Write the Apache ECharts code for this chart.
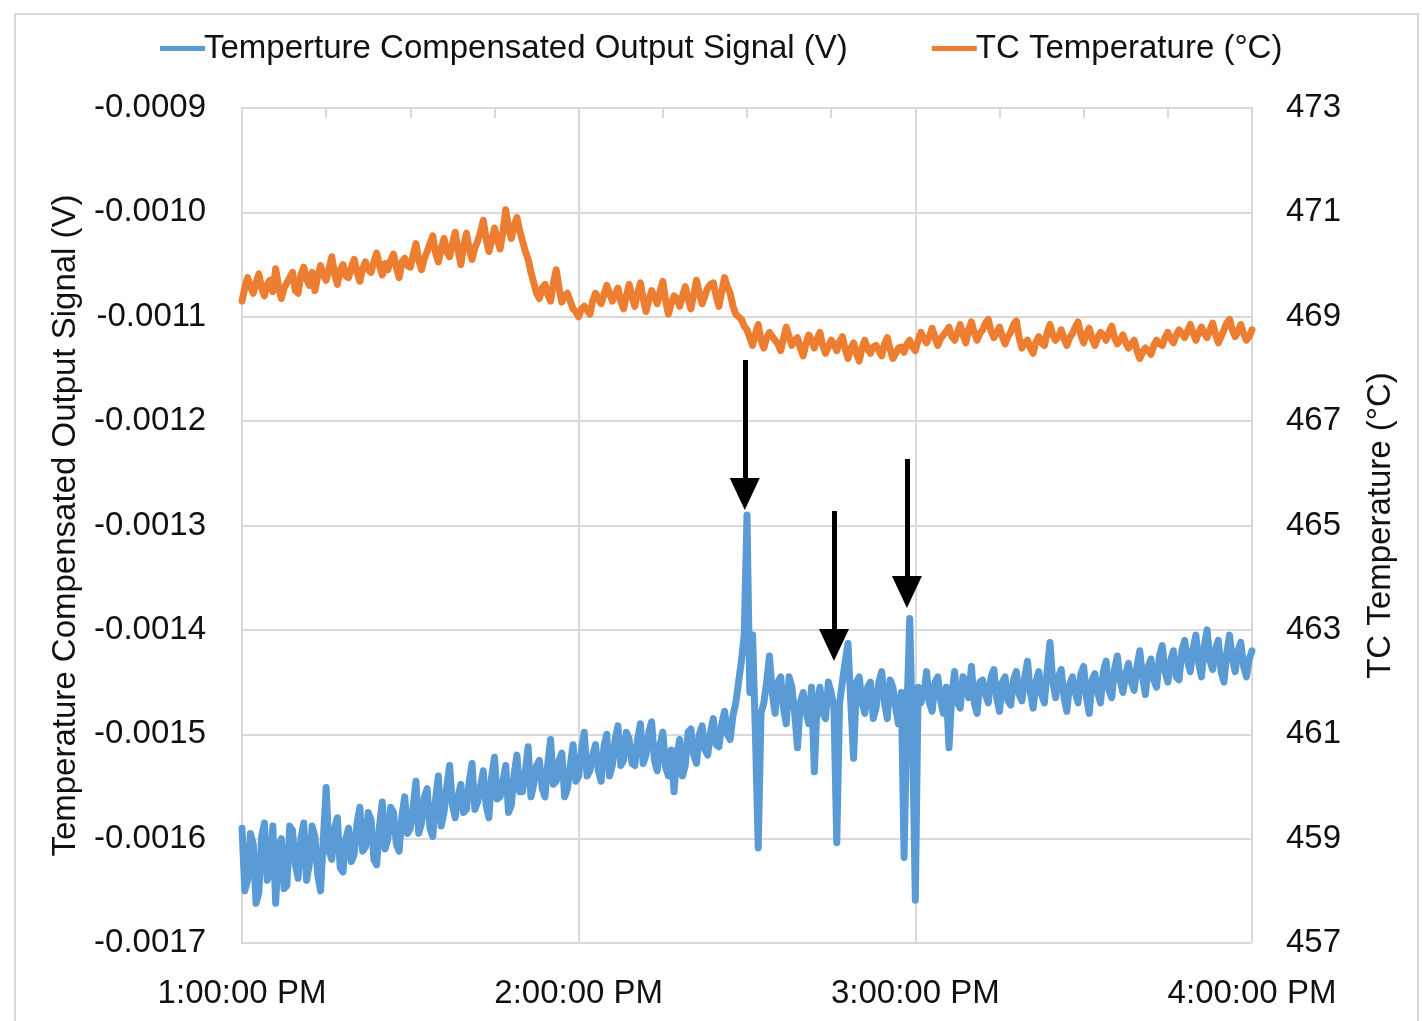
<!DOCTYPE html>
<html>
<head>
<meta charset="utf-8">
<title>Output signal vs TC temperature</title>
<script src="https://cdn.jsdelivr.net/npm/echarts@6/dist/echarts.min.js"></script>
<style>
  html, body { margin: 0; padding: 0; background: #fff; }
  #chart { width: 1422px; height: 1021px; }
</style>
</head>
<body>
<div id="chart"></div>
<script>
// readings on the whole minute, starting 1:00:00 PM
var signalV = [
  -0.001590, -0.001640, -0.001605, -0.001652, -0.001585, -0.001630, -0.001662, -0.001600, -0.001645, -0.001592,
  -0.001638, -0.001585, -0.001625, -0.001598, -0.001650, -0.001551, -0.001620, -0.001580, -0.001632, -0.001590,
  -0.001615, -0.001570, -0.001608, -0.001582, -0.001625, -0.001565, -0.001600, -0.001575, -0.001612, -0.001560,
  -0.001590, -0.001545, -0.001585, -0.001552, -0.001598, -0.001540, -0.001575, -0.001530, -0.001580, -0.001548,
  -0.001572, -0.001528, -0.001565, -0.001535, -0.001580, -0.001522, -0.001560, -0.001530, -0.001568, -0.001520,
  -0.001555, -0.001512, -0.001548, -0.001525, -0.001560, -0.001505, -0.001545, -0.001518, -0.001552, -0.001510,
  -0.001540, -0.001498, -0.001535, -0.001510, -0.001545, -0.001500, -0.001530, -0.001492, -0.001525, -0.001505,
  -0.001530, -0.001490, -0.001520, -0.001488, -0.001535, -0.001498, -0.001540, -0.001555, -0.001505, -0.001530,
  -0.001495, -0.001528, -0.001492, -0.001520, -0.001485, -0.001512, -0.001478, -0.001505, -0.001470, -0.001430,
  -0.001290, -0.001405, -0.001609, -0.001470, -0.001425, -0.001480, -0.001445, -0.001490, -0.001455, -0.001513,
  -0.001460, -0.001490, -0.001536, -0.001455, -0.001485, -0.001460, -0.001604, -0.001450, -0.001413, -0.001523,
  -0.001445, -0.001480, -0.001450, -0.001475, -0.001440, -0.001485, -0.001455, -0.001490, -0.001618, -0.001389,
  -0.001659, -0.001470, -0.001440, -0.001478, -0.001445, -0.001480, -0.001513, -0.001440, -0.001475, -0.001450,
  -0.001435, -0.001480, -0.001448, -0.001470, -0.001438, -0.001478, -0.001445, -0.001472, -0.001440, -0.001468,
  -0.001430, -0.001475, -0.001440, -0.001470, -0.001412, -0.001465, -0.001438, -0.001478, -0.001445, -0.001470,
  -0.001435, -0.001480, -0.001442, -0.001470, -0.001430, -0.001465, -0.001425, -0.001460, -0.001432, -0.001458,
  -0.001420, -0.001462, -0.001428, -0.001455, -0.001415, -0.001450, -0.001420, -0.001448, -0.001410, -0.001440,
  -0.001405, -0.001445, -0.001400, -0.001438, -0.001410, -0.001450, -0.001405, -0.001440, -0.001412, -0.001445,
  -0.001420
]
// readings on the half minute (1:00:30 PM onwards)
var signalHalfV = [
  -0.001650, -0.001595, -0.001662, -0.001598, -0.001640, -0.001588, -0.001610, -0.001648, -0.001588, -0.001625,
  -0.001600, -0.001640, -0.001588, -0.001635, -0.001600, -0.001612, -0.001590, -0.001628, -0.001600, -0.001622,
  -0.001585, -0.001612, -0.001575, -0.001620, -0.001588, -0.001610, -0.001570, -0.001605, -0.001578, -0.001595,
  -0.001570, -0.001595, -0.001560, -0.001590, -0.001562, -0.001588, -0.001550, -0.001568, -0.001560, -0.001575,
  -0.001545, -0.001572, -0.001550, -0.001568, -0.001540, -0.001562, -0.001545, -0.001575, -0.001538, -0.001555,
  -0.001535, -0.001560, -0.001530, -0.001552, -0.001528, -0.001548, -0.001525, -0.001560, -0.001530, -0.001545,
  -0.001515, -0.001540, -0.001520, -0.001535, -0.001512, -0.001540, -0.001505, -0.001530, -0.001498, -0.001528,
  -0.001505, -0.001528, -0.001498, -0.001525, -0.001510, -0.001532, -0.001515, -0.001520, -0.001540, -0.001498,
  -0.001520, -0.001500, -0.001515, -0.001498, -0.001510, -0.001490, -0.001500, -0.001482, -0.001450, -0.001405,
  -0.001460, -0.001500, -0.001480, -0.001450, -0.001460, -0.001450, -0.001475, -0.001445, -0.001480, -0.001470,
  -0.001478, -0.001455, -0.001470, -0.001480, -0.001450, -0.001475, -0.001470, -0.001430, -0.001470, -0.001450,
  -0.001470, -0.001455, -0.001485, -0.001450, -0.001470, -0.001448, -0.001475, -0.001460, -0.001480, -0.001500,
  -0.001455, -0.001462, -0.001470, -0.001450, -0.001468, -0.001455, -0.001462, -0.001470, -0.001445, -0.001465,
  -0.001470, -0.001450, -0.001462, -0.001445, -0.001465, -0.001450, -0.001468, -0.001448, -0.001462, -0.001445,
  -0.001460, -0.001450, -0.001462, -0.001438, -0.001450, -0.001445, -0.001465, -0.001452, -0.001460, -0.001442,
  -0.001465, -0.001448, -0.001460, -0.001440, -0.001458, -0.001438, -0.001448, -0.001442, -0.001450, -0.001435,
  -0.001445, -0.001435, -0.001448, -0.001425, -0.001440, -0.001430, -0.001445, -0.001420, -0.001430, -0.001418,
  -0.001432, -0.001415, -0.001430, -0.001418, -0.001440, -0.001422, -0.001428, -0.001420, -0.001435, -0.001428
]

var tcTemp = [
  469.30, 469.75, 469.45, 469.82, 469.40, 469.70, 469.92, 469.35, 469.65, 469.85,
  469.45, 469.95, 469.60, 469.50, 469.98, 469.70, 470.15, 469.62, 470.00, 469.75,
  470.10, 469.68, 470.05, 469.85, 470.22, 469.80, 469.90, 470.20, 469.75, 470.12,
  469.95, 470.40, 469.90, 470.25, 470.55, 470.05, 470.50, 470.15, 470.62, 470.00,
  470.60, 470.10, 470.45, 470.85, 470.25, 470.70, 470.30, 471.05, 470.50, 470.90,
  470.45, 470.10, 469.65, 469.35, 469.62, 469.30, 469.90, 469.28, 469.45, 469.15,
  469.00, 469.20, 469.05, 469.45, 469.25, 469.60, 469.30, 469.55, 469.15, 469.62,
  469.20, 469.65, 469.10, 469.50, 469.25, 469.68, 469.05, 469.40, 469.20, 469.58,
  469.15, 469.70, 469.25, 469.55, 469.65, 469.20, 469.75, 469.45, 469.05, 468.95,
  468.75, 468.45, 468.85, 468.40, 468.70, 468.55, 468.35, 468.80, 468.45, 468.60,
  468.25, 468.65, 468.40, 468.70, 468.30, 468.55, 468.35, 468.62, 468.20, 468.50,
  468.15, 468.55, 468.30, 468.45, 468.25, 468.60, 468.20, 468.40, 468.32, 468.55,
  468.35, 468.70, 468.50, 468.78, 468.45, 468.65, 468.80, 468.55, 468.85, 468.50,
  468.90, 468.55, 468.75, 468.95, 468.60, 468.80, 468.48, 468.70, 468.92, 468.40,
  468.55, 468.30, 468.62, 468.45, 468.85, 468.55, 468.75, 468.45, 468.68, 468.90,
  468.50, 468.78, 468.45, 468.70, 468.55, 468.82, 468.48, 468.65, 468.40, 468.55,
  468.20, 468.40, 468.28, 468.55, 468.45, 468.70, 468.50, 468.75, 468.60, 468.85,
  468.55, 468.80, 468.60, 468.88, 468.50, 468.75, 468.95, 468.62, 468.85, 468.55,
  468.75
]
var tcHalf = [
  469.55, 469.58, 469.65, 469.55, 469.62, 469.48, 469.60, 469.55, 469.75, 469.50,
  469.80, 469.72, 469.85, 469.78, 469.80, 469.92, 469.82, 469.90, 469.78, 469.95,
  469.85, 469.92, 469.90, 470.05, 469.98, 470.02, 470.08, 469.95, 470.05, 469.98,
  470.18, 470.08, 470.12, 470.40, 470.22, 470.30, 470.25, 470.40, 470.28, 470.35,
  470.30, 470.32, 470.62, 470.50, 470.45, 470.48, 470.62, 470.70, 470.75, 470.65,
  470.25, 469.85, 469.45, 469.55, 469.42, 469.65, 469.55, 469.40, 469.30, 469.10,
  469.15, 469.12, 469.30, 469.35, 469.42, 469.45, 469.42, 469.30, 469.40, 469.38,
  469.45, 469.35, 469.32, 469.40, 469.48, 469.30, 469.25, 469.35, 469.40, 469.35,
  469.42, 469.45, 469.40, 469.62, 469.40, 469.48, 469.58, 469.20, 469.00, 468.82,
  468.60, 468.68, 468.55, 468.60, 468.62, 468.48, 468.58, 468.62, 468.55, 468.40,
  468.48, 468.55, 468.58, 468.45, 468.42, 468.48, 468.52, 468.38, 468.40, 468.30,
  468.40, 468.38, 468.42, 468.35, 468.48, 468.38, 468.30, 468.42, 468.48, 468.42,
  468.55, 468.58, 468.62, 468.60, 468.58, 468.72, 468.62, 468.70, 468.65, 468.75,
  468.70, 468.68, 468.88, 468.72, 468.70, 468.62, 468.62, 468.85, 468.60, 468.50,
  468.40, 468.52, 468.50, 468.70, 468.65, 468.62, 468.58, 468.60, 468.80, 468.65,
  468.68, 468.58, 468.60, 468.65, 468.70, 468.60, 468.55, 468.50, 468.48, 468.35,
  468.32, 468.35, 468.45, 468.48, 468.60, 468.58, 468.65, 468.68, 468.72, 468.68,
  468.70, 468.68, 468.75, 468.66, 468.62, 468.88, 468.75, 468.72, 468.68, 468.62
]

var hourTicks = ['1:00:00 PM', '2:00:00 PM', '3:00:00 PM', '4:00:00 PM']

// arrows: [minute, from V, to V]
var arrows = [
  [89.6, -0.0011414, -0.0012698],
  [105.5, -0.0012861, -0.0014145],
  [118.5, -0.0012363, -0.0013637]
]

var FONT = 'Liberation Sans, Arial, sans-serif'
var TXT = '#111'
var GRID_C = '#d9d9d9'

// minute / half-minute readings merged in time order
function merge (whole, half) {
  var out = []
  for (var i = 0; i < whole.length; i++) {
    out.push([i, whole[i]])
    if (i < half.length) out.push([i + 0.5, half[i]])
  }
  return out
}

var sigData = merge(signalV, signalHalfV)
var tcData = merge(tcTemp, tcHalf)
var arrowLines = arrows.map(function (a) {
  return [{ coord: [a[0], a[1]] }, { coord: [a[0], a[2]] }]
})

var myChart = echarts.init(document.getElementById('chart'))
myChart.setOption({
  animation: false,
  backgroundColor: '#fff',
  graphic: [{
    type: 'rect',
    shape: { x: 15, y: 14, width: 1403, height: 1030 },
    style: { fill: 'none', stroke: GRID_C, lineWidth: 2 },
    silent: true
  }],
  legend: {
    left: 155,
    top: 27,
    itemGap: 84,
    itemWidth: 45,
    itemHeight: 5,
    icon: 'rect',
    textStyle: { fontFamily: FONT, fontSize: 33, color: TXT, padding: [0, 0, 0, -6] },
    data: ['Temperture Compensated Output Signal (V)', 'TC Temperature (°C)']
  },
  grid: { left: 242, right: 170, top: 108, bottom: 78 },
  xAxis: [{
    type: 'value',
    position: 'bottom',
    min: 0,
    max: 180,
    interval: 60,
    axisLine: { show: false },
    axisTick: { show: false },
    axisLabel: {
      margin: 34,
      fontFamily: FONT,
      fontSize: 33,
      color: TXT,
      formatter: function (v) { return hourTicks[Math.round(v / 60)] }
    },
    splitLine: { show: true, lineStyle: { color: GRID_C, width: 2 } }
  }, {
    type: 'value',
    position: 'top',
    min: 0,
    max: 180,
    interval: 15,
    axisLine: { show: true, lineStyle: { color: GRID_C, width: 2 } },
    axisTick: { show: true, inside: true, length: 10, lineStyle: { color: GRID_C, width: 2 } },
    axisLabel: { show: false },
    splitLine: { show: false }
  }],
  yAxis: [{
    type: 'value',
    position: 'left',
    min: -0.0017,
    max: -0.0009,
    interval: 0.0001,
    name: 'Temperature Compensated Output Signal (V)',
    nameLocation: 'middle',
    nameRotate: 90,
    nameGap: 160,
    nameTextStyle: { fontFamily: FONT, fontSize: 33, color: TXT },
    axisLine: { show: true, lineStyle: { color: GRID_C, width: 2 } },
    axisTick: { show: false },
    axisLabel: {
      margin: 36,
      fontFamily: FONT,
      fontSize: 33,
      color: TXT,
      formatter: function (v) { return v.toFixed(4) }
    },
    splitLine: { show: true, lineStyle: { color: GRID_C, width: 2 } }
  }, {
    type: 'value',
    position: 'right',
    min: 457,
    max: 473,
    interval: 2,
    name: 'TC Temperature (°C)',
    nameLocation: 'middle',
    nameRotate: 90,
    nameGap: 112,
    nameTextStyle: { fontFamily: FONT, fontSize: 33, color: TXT },
    axisLine: { show: true, lineStyle: { color: GRID_C, width: 2 } },
    axisTick: { show: true, length: 13, lineStyle: { color: GRID_C, width: 2 } },
    axisLabel: { margin: 34, fontFamily: FONT, fontSize: 33, color: TXT },
    splitLine: { show: false }
  }],
  series: [{
    name: 'Temperture Compensated Output Signal (V)',
    type: 'line',
    xAxisIndex: 0,
    yAxisIndex: 0,
    data: sigData,
    showSymbol: false,
    color: '#5b9bd5',
    lineStyle: { width: 7, color: '#5b9bd5', join: 'round', cap: 'round' },
    markLine: {
      silent: true,
      symbol: ['none', 'triangle'],
      symbolSize: [30, 32],
      label: { show: false },
      lineStyle: { color: '#000', width: 5, type: 'solid' },
      emphasis: { disabled: true },
      data: arrowLines
    }
  }, {
    name: 'TC Temperature (°C)',
    type: 'line',
    xAxisIndex: 0,
    yAxisIndex: 1,
    data: tcData,
    showSymbol: false,
    color: '#ed7d31',
    lineStyle: { width: 7, color: '#ed7d31', join: 'round', cap: 'round' }
  }]
})
</script>
</body>
</html>
